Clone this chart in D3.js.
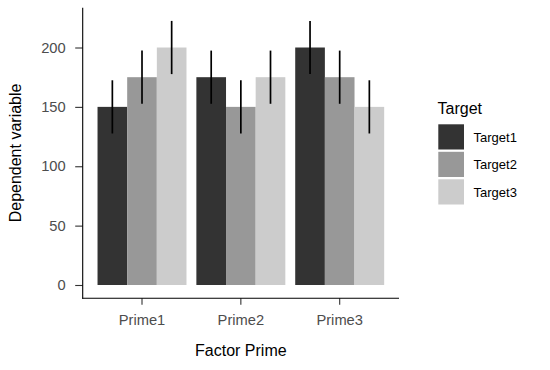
<!DOCTYPE html>
<html>
<head>
<meta charset="utf-8">
<script src="https://cdn.jsdelivr.net/npm/d3@7"></script>
<style>
  html, body { margin: 0; padding: 0; background: #fff; }
  svg { display: block; font-family: "Liberation Sans", Arial, Helvetica, sans-serif; }
</style>
</head>
<body>
<svg id="chart" width="550" height="370"></svg>
<script>
// ---- data ----
const primes = ["Prime1", "Prime2", "Prime3"];
const targets = ["Target1", "Target2", "Target3"];
const target1 = [150, 175, 200];
const target2 = [175, 150, 175];
const target3 = [200, 175, 150];
const se1 = [22.4, 22.4, 22.4];
const se2 = [22.4, 22.4, 22.4];
const se3 = [22.4, 22.4, 22.4];
const yTicks = [0, 50, 100, 150, 200];
const fills = ["#333333", "#989898", "#cccccc"];

const seriesVals = [target1, target2, target3];
const seriesSE = [se1, se2, se3];
const rows = [];
primes.forEach((p, i) => targets.forEach((t, j) => {
  rows.push({ prime: p, target: t, value: seriesVals[j][i], se: seriesSE[j][i] });
}));

// ---- layout ----
const panel = { left: 82.7, right: 399, top: 7.7, bottom: 298.2 };
const svg = d3.select("#chart");

const x = d3.scaleBand().domain(primes).range([panel.left, panel.right])
  .paddingInner(0.1).paddingOuter(0.15);
const xi = d3.scaleBand().domain(targets).range([0, x.bandwidth()]).padding(0);

const ymax = d3.max(rows, d => d.value + d.se);
const ymin = 0;
const ext = (ymax - ymin) * 0.05;
const y = d3.scaleLinear().domain([ymin - ext, ymax + ext]).range([panel.bottom, panel.top]);

const color = d3.scaleOrdinal().domain(targets).range(fills);

// bars
svg.append("g").selectAll("rect").data(rows).join("rect")
  .attr("x", d => x(d.prime) + xi(d.target))
  .attr("width", xi.bandwidth())
  .attr("y", d => y(d.value))
  .attr("height", d => y(0) - y(d.value))
  .attr("fill", d => color(d.target));

// error bars
svg.append("g").selectAll("line").data(rows).join("line")
  .attr("x1", d => x(d.prime) + xi(d.target) + xi.bandwidth() / 2)
  .attr("x2", d => x(d.prime) + xi(d.target) + xi.bandwidth() / 2)
  .attr("y1", d => y(d.value - d.se))
  .attr("y2", d => y(d.value + d.se))
  .attr("stroke", "#000").attr("stroke-width", 1.7);

// axes
const xAxis = svg.append("g").attr("transform", `translate(0,${panel.bottom})`)
  .call(d3.axisBottom(x).tickSize(6.5).tickPadding(9.8).tickSizeOuter(0));
const yAxis = svg.append("g").attr("transform", `translate(${panel.left},0)`)
  .call(d3.axisLeft(y).tickValues(yTicks).tickSize(7.5).tickPadding(9.5).tickSizeOuter(0));

[xAxis, yAxis].forEach(g => {
  g.select(".domain").remove();
  g.selectAll(".tick line").attr("stroke", "#333333").attr("stroke-width", 1.1);
  g.selectAll(".tick text").attr("fill", "#4d4d4d").style("font-size", "14.7px")
    .style("font-family", "'Liberation Sans', Arial, sans-serif");
});

// axis lines
svg.append("line").attr("x1", panel.left).attr("x2", panel.left)
  .attr("y1", panel.top).attr("y2", panel.bottom + 0.5)
  .attr("stroke", "#000").attr("stroke-width", 1.1);
svg.append("line").attr("x1", panel.left - 0.5).attr("x2", panel.right)
  .attr("y1", panel.bottom).attr("y2", panel.bottom)
  .attr("stroke", "#000").attr("stroke-width", 1.1);

// axis titles
svg.append("text").attr("x", (panel.left + panel.right) / 2).attr("y", 356)
  .attr("text-anchor", "middle").style("font-size", "16px").attr("fill", "#000")
  .text("Factor Prime");
svg.append("text")
  .attr("transform", `translate(21,${(panel.top + panel.bottom) / 2}) rotate(-90)`)
  .attr("text-anchor", "middle").style("font-size", "16px").attr("fill", "#000")
  .text("Dependent variable");

// legend
const lg = svg.append("g");
lg.append("text").attr("x", 437.5).attr("y", 113.5).style("font-size", "16px")
  .attr("fill", "#000").text("Target");
targets.forEach((t, i) => {
  const top = 124.3 + i * 27.5;
  lg.append("rect").attr("x", 438.3).attr("y", top).attr("width", 25.7).attr("height", 25.2)
    .attr("fill", color(t));
  lg.append("text").attr("x", 473.5).attr("y", top + 12.6 + 4.6)
    .style("font-size", "13px").attr("fill", "#000").text(t);
});
</script>
</body>
</html>
